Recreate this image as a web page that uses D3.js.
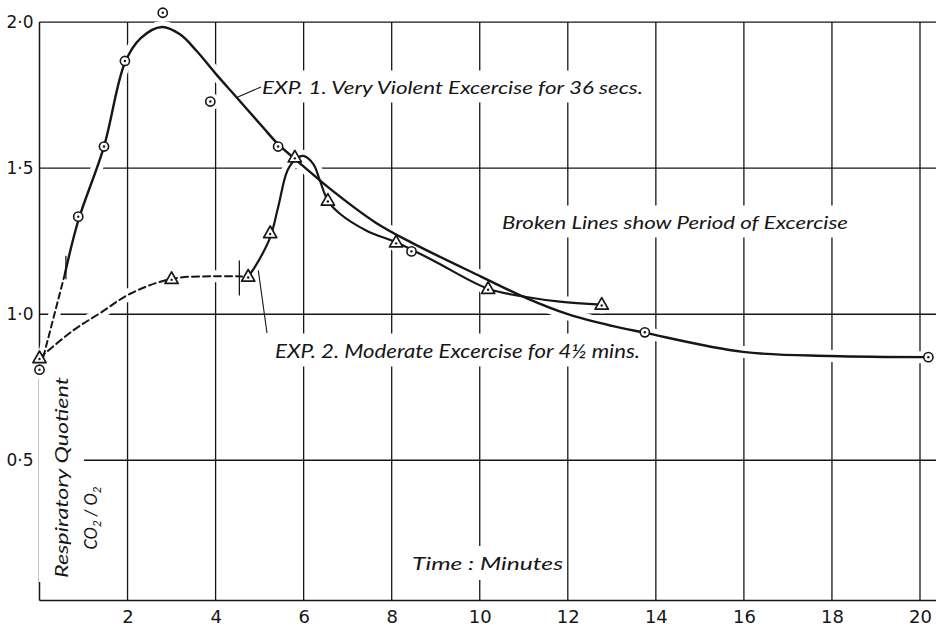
<!DOCTYPE html>
<html><head><meta charset="utf-8">
<script src="https://cdn.jsdelivr.net/npm/d3@7"></script>
<style>body{margin:0;background:#fff}svg{display:block}</style>
</head><body>
<svg id="c" width="936" height="628"></svg>
<script>
// ---------- data ----------
const xTicks = [2,4,6,8,10,12,14,16,18,20];
const xTickLabels = ["2","4","6","8","10","12","14","16","18","20"];
const yTicks = [0.5,1.0,1.5,2.0];
const yTickLabels = ["0·5","1·0","1·5","2·0"];

// Exp. 1 observed points (time in minutes, respiratory quotient)
const exp1Time = [0, 0.88, 1.465, 1.94, 2.80, 3.88, 5.42, 8.45, 13.75, 20.19];
const exp1RQ   = [0.81, 1.334, 1.574, 1.867, 2.032, 1.728, 1.574, 1.215, 0.938, 0.853];
// Exp. 2 observed points
const exp2Time = [0, 3.0, 4.74, 5.24, 5.80, 6.55, 8.10, 10.19, 12.77];
const exp2RQ   = [0.85, 1.121, 1.129, 1.278, 1.537, 1.389, 1.246, 1.087, 1.033];

// hand-drawn curves
const exp1DashT = [0.09, 0.58];
const exp1DashV = [0.855, 1.14];
const exp1CurveT = [0.58, 0.88, 1.465, 1.94, 2.30, 2.78, 3.19, 3.57, 4.01, 4.48, 5.08, 5.42, 6.03, 6.56, 7.62, 8.45, 10.04, 11.06, 12.0, 13.0, 13.73, 15.98, 17.99, 20.19];
const exp1CurveV = [1.14, 1.32, 1.574, 1.861, 1.945, 1.983, 1.958, 1.901, 1.822, 1.742, 1.639, 1.582, 1.502, 1.434, 1.315, 1.245, 1.128, 1.055, 1.0, 0.96, 0.937, 0.871, 0.857, 0.853];
const exp2DashT = [0.0, 0.77, 1.41, 2.06, 3.0, 4.0, 4.6];
const exp2DashV = [0.85, 0.945, 1.007, 1.07, 1.121, 1.13, 1.129];
const exp2CurveT = [4.74, 4.89, 5.24, 5.42, 5.63, 5.82, 5.99, 6.22, 6.37, 6.55, 6.83, 7.43, 8.10, 8.94, 10.19, 11.06, 11.82, 12.77];
const exp2CurveV = [1.129, 1.161, 1.263, 1.366, 1.491, 1.531, 1.542, 1.514, 1.457, 1.389, 1.343, 1.286, 1.246, 1.184, 1.087, 1.059, 1.043, 1.033];

// end of exercise markers (36 secs, 4½ mins)
const exEndT = [0.6, 4.54];
const exEndLo = [1.12, 1.064];
const exEndHi = [1.20, 1.184];

// ---------- layout ----------
const W = 936, H = 628;
const x = d3.scaleLinear([0, 20], [39.5, 920]);
const y = d3.scaleLinear([0, 2], [606.3, 22.1]);
const yFloor = 0.02;
const ink = "#161616";

const svg = d3.select("#c");
svg.append("rect").attr("width", W).attr("height", H).attr("fill", "#fff");

const gGrid = svg.append("g");
const gKnock = svg.append("g");
const gText = svg.append("g");
const gLines = svg.append("g");
const gMarks = svg.append("g");

// grid & frame
gGrid.selectAll("line.h").data(yTicks).join("line")
  .attr("x1", x(0)).attr("x2", W).attr("y1", d => y(d)).attr("y2", d => y(d))
  .attr("stroke", ink).attr("stroke-width", 1.4);
gGrid.selectAll("line.v").data(xTicks).join("line")
  .attr("x1", d => x(d)).attr("x2", d => x(d)).attr("y1", y(2)).attr("y2", y(yFloor))
  .attr("stroke", ink).attr("stroke-width", 1.3);
gGrid.append("line").attr("x1", x(0)).attr("x2", x(0)).attr("y1", y(2)).attr("y2", y(yFloor))
  .attr("stroke", ink).attr("stroke-width", 1.5);
gGrid.append("line").attr("x1", x(0)).attr("x2", W).attr("y1", y(yFloor)).attr("y2", y(yFloor))
  .attr("stroke", ink).attr("stroke-width", 1.5);

// axes labels via d3 axes
const yAx = svg.append("g").attr("transform", `translate(${x(0)},0)`)
  .call(d3.axisLeft(y).tickValues(yTicks).tickFormat((d, i) => yTickLabels[i]).tickSize(0).tickPadding(6));
yAx.select(".domain").remove();
yAx.selectAll("text").attr("font-family", "DejaVu Sans, sans-serif").attr("font-size", 17).attr("fill", ink);

const xAx = svg.append("g").attr("transform", `translate(0,${y(yFloor)})`)
  .call(d3.axisBottom(x).tickValues(xTicks).tickFormat((d, i) => xTickLabels[i]).tickSize(0).tickPadding(10));
xAx.select(".domain").remove();
xAx.selectAll("text").attr("font-family", "DejaVu Sans, sans-serif").attr("font-size", 18).attr("fill", ink);

// annotation texts with white knock-out background
function label(tx, ty, rot, parts, size, len, pad) {
  const g = gText.append("g").attr("transform", `translate(${tx},${ty}) rotate(${rot})`);
  const r = g.append("rect").attr("fill", "#fff");
  const t = g.append("text")
    .attr("font-family", "Lato, 'Liberation Sans', sans-serif").attr("font-style", "italic")
    .attr("font-size", size).attr("fill", ink)
    .attr("text-anchor", rot ? "middle" : "start");
  parts.forEach(p => {
    const s = t.append("tspan").text(p.s);
    if (p.sub) s.attr("font-size", size * 0.7).attr("dy", size * 0.22);
    else if (p.back) s.attr("dy", -size * 0.22);
  });
  if (len) t.attr("textLength", len).attr("lengthAdjust", "spacingAndGlyphs");
  const b = t.node().getBBox();
  r.attr("x", b.x - pad[0]).attr("y", b.y - pad[1]).attr("width", b.width + 2 * pad[0]).attr("height", b.height + 2 * pad[1]);
}
label(262, 93.5, 0, [{s: "EXP. 1.  Very Violent Excercise for 36 secs."}], 18, 381, [4, 5]);
label(502, 228.5, 0, [{s: "Broken Lines show Period of Excercise"}], 18, 346, [4, 5]);
label(275, 357.5, 0, [{s: "EXP. 2. Moderate Excercise for 4½ mins."}], 19, 365, [4, 5]);
label(412, 570, 0, [{s: "Time : Minutes"}], 18, 151, [4, 6]);
label(68, 477.5, -90, [{s: "Respiratory Quotient"}], 17, 201, [4, 12]);
label(97, 518, -90, [{s: "CO"}, {s: "2", sub: true}, {s: " / O", back: true}, {s: "2", sub: true}], 17, 63, [4, 6]);

// line generators
const curve = d3.line().x(d => x(d[0])).y(d => y(d[1])).curve(d3.curveCatmullRom.alpha(0.5));
const zipT = (T, V) => T.map((t, i) => [t, V[i]]);
const paths = [
  {d: zipT(exp1CurveT, exp1CurveV), w: 2.4, dash: null},
  {d: zipT(exp2CurveT, exp2CurveV), w: 2.2, dash: null},
  {d: zipT(exp1DashT, exp1DashV), w: 2.0, dash: "6,4"},
  {d: zipT(exp2DashT, exp2DashV), w: 2.0, dash: "7,4"}
];

// knock-outs (white halos) under curves and markers
paths.forEach(p => gKnock.append("path").attr("d", curve(p.d)).attr("fill", "none")
  .attr("stroke", "#fff").attr("stroke-width", 12).attr("stroke-linecap", "round"));
const allPts = zipT(exp1Time, exp1RQ).concat(zipT(exp2Time, exp2RQ));
gKnock.selectAll("circle").data(allPts).join("circle")
  .attr("cx", d => x(d[0])).attr("cy", d => y(d[1])).attr("r", 9).attr("fill", "#fff");

// curves
paths.forEach(p => gLines.append("path").attr("d", curve(p.d)).attr("fill", "none")
  .attr("stroke", ink).attr("stroke-width", p.w).attr("stroke-dasharray", p.dash)
  .attr("stroke-linecap", "round"));

// end of exercise ticks
gLines.selectAll("line.ex").data(exEndT).join("line")
  .attr("x1", d => x(d)).attr("x2", d => x(d))
  .attr("y1", (d, i) => y(exEndLo[i])).attr("y2", (d, i) => y(exEndHi[i]))
  .attr("stroke", ink).attr("stroke-width", 1.3);

// leader lines from labels to curves
gLines.append("line").attr("x1", x(4.48)).attr("y1", y(1.742)).attr("x2", 261).attr("y2", 87)
  .attr("stroke", ink).attr("stroke-width", 1.1);
gLines.append("line").attr("x1", x(4.97)).attr("y1", y(1.15)).attr("x2", 267).attr("y2", 333)
  .attr("stroke", ink).attr("stroke-width", 1.1);

// markers: Exp.1 circles with centre dot
const m1 = gMarks.selectAll("g.m1").data(zipT(exp1Time, exp1RQ)).join("g")
  .attr("transform", d => `translate(${x(d[0])},${y(d[1])})`);
m1.append("circle").attr("r", 4.6).attr("fill", "#fff").attr("stroke", ink).attr("stroke-width", 1.6);
m1.append("circle").attr("r", 1.2).attr("fill", ink);

// markers: Exp.2 triangles with centre dot
const m2 = gMarks.selectAll("g.m2").data(zipT(exp2Time, exp2RQ)).join("g")
  .attr("transform", d => `translate(${x(d[0])},${y(d[1])})`);
m2.append("path").attr("d", "M0,-7L6.6,4.6L-6.6,4.6Z").attr("fill", "#fff")
  .attr("stroke", ink).attr("stroke-width", 1.7).attr("stroke-linejoin", "round");
m2.append("circle").attr("cy", 1).attr("r", 1.2).attr("fill", ink);
</script>
</body></html>
